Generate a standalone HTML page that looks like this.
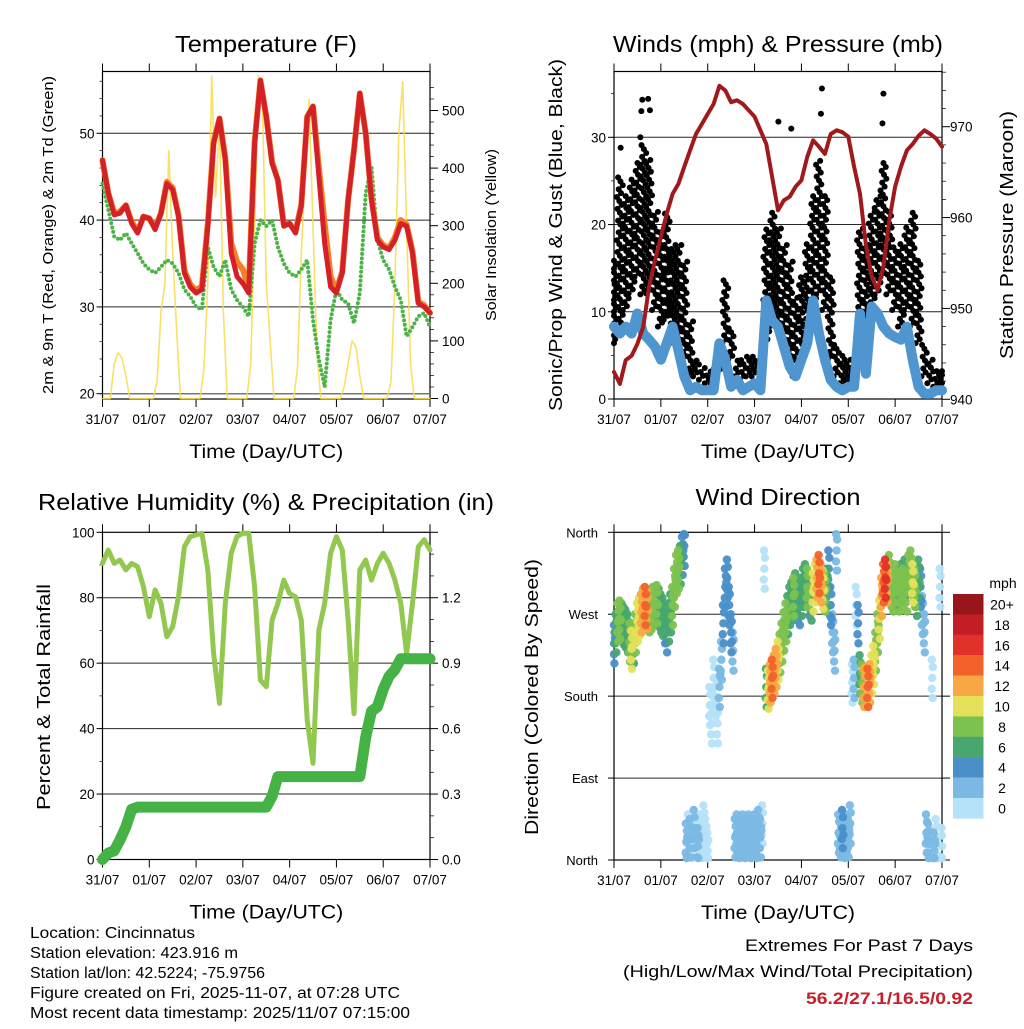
<!DOCTYPE html>
<html><head><meta charset="utf-8"><style>
html,body{margin:0;padding:0;background:#fff}
svg text{font-family:"Liberation Sans",sans-serif;fill:#000}
</style></head><body>
<svg id="fig" width="1024" height="1024" viewBox="0 0 1024 1024" xmlns="http://www.w3.org/2000/svg"></svg>
<script>
// ---------- DATA (3-hourly unless noted, hours 0..168) ----------
const dayLabels = ["31/07","01/07","02/07","03/07","04/07","05/07","06/07","07/07"];
const tRed = [46.9,43.1,40.6,40.8,41.7,39.6,38.5,40.4,40.2,38.9,40.8,44.2,43.5,40.4,33.9,32.3,31.6,32,39.3,48.8,51.7,46.9,36.2,33.5,32.7,31.6,48.8,56.1,51.9,46.5,44.6,39.3,39.6,38.5,41.6,51.9,53.1,45,37.3,32.3,31.6,33.9,42.3,48.1,54.6,50,42.3,37.7,36.9,36.6,37.7,39.6,39.3,36.2,30.4,30,29.3];
const tOrange = [46.9,43.1,40.8,41,41.7,39.8,38.7,40.4,40.2,39.1,40.8,44.4,43.7,40.6,34.2,32.6,31.9,32.4,39.6,49,51.7,47.2,37.4,35.2,34.3,32.2,49,56.1,51.9,46.7,44.6,39.5,39.6,38.7,41.8,51.9,53.1,46,39.5,33.5,31.9,34.1,42.3,48.1,54.6,50,42.5,38,37.1,36.8,38,40,39.5,36.4,30.6,30.2,29.3];
const tDew = [44.2,41.2,38.1,37.7,38.5,37.3,36.2,35,34.3,33.9,34.6,35.4,35,33.9,32,31.2,30,29.7,36.9,34.6,33.5,35.4,32,30.8,30,28.9,37.3,40,39.3,40,36.9,35,33.9,33.5,34.3,35.4,28.5,23.9,20.8,28.5,32,30.8,30.4,28.1,31.6,43.1,46.2,37.7,35.4,34.3,32.3,30.8,26.6,27.7,28.9,29.3,27.7];
// solar, 2-hourly
const solar = [0,0,0,60,80,70,40,0,0,0,0,0,0,0,30,150,200,430,250,120,0,0,0,0,0,0,50,200,560,350,480,150,0,0,0,0,0,0,60,300,560,520,200,100,0,0,0,0,0,0,50,250,400,520,300,80,0,0,0,0,0,0,20,60,100,90,40,0,0,0,0,0,0,0,30,200,460,550,300,60,0,0,0,0,0];
const pressure = [943,941.7,944.3,944.8,946.1,948,952.4,955.3,957.9,960.4,962.6,963.7,965.6,967.4,969.2,970.3,971.4,972.5,974.5,974,972.7,972.9,972.5,971.8,971.1,969.6,968.1,964.5,960.8,961.9,962.3,963.4,964.1,966.7,968.5,967.8,967,969.2,969.6,969.4,968.9,965.6,962.6,957,953.5,952,954.6,959.7,963.4,965.6,967.4,968.1,969,969.6,969.2,968.7,967.8];
const windMean = [8.3,7.5,8.3,7.5,9.8,7.5,6.8,6,4.5,6.4,8.3,5.6,2.6,1,1.4,1,1,1,6.4,4.5,1.4,2.2,1,1.4,1.8,1,11.3,9,8.3,6,3.7,2.6,4.5,6.4,11.3,7.5,4.5,2.2,1.4,1,1.4,1.4,9.8,2.9,10.6,9.8,8.3,7.5,7.1,6.8,8.3,4.5,1.4,0.6,0.6,1,1];
const gustLow = [6.4,8.3,10.2,12.1,14,12,12.1,10.2,8.3,9.1,6.4,6.4,4.5,2.6,2.6,2.2,1.8,1.8,3,6.4,4.5,2.6,2.2,2.6,2.6,1.4,6.4,8.3,8.3,6.4,4.5,2.6,4.5,8.3,10.2,12,10.2,4.5,2.6,1.8,1.8,1.4,8.3,6.4,10.2,12,14,12,10.2,8.3,10.2,8.3,6.4,2.6,1.8,1.4,1.4];
const gustHigh = [15.9,25.5,23.5,25.5,27.4,29.3,27.4,21.6,19.7,21.6,17.8,17.8,15.9,9,4.5,3.6,3.2,3.6,5,14,8.3,4.5,4.5,4.9,5.2,4.9,19.7,21.6,19.7,17.8,15.9,12,14,17.8,23.5,27.4,23.5,14,6.4,5.2,4.5,4.5,19.7,17.8,21.6,23.5,27.4,21.6,17.8,17.8,19.7,21.6,15.9,6.4,4.5,3.6,3.2];
const gustOutHour = [3.4,13.5,14,14.5,17.5,18.4,84.2,90.8,106,106.5,137.5,138];
const gustOutVal = [28.8,30,33,34.3,34.4,33.1,31.8,31,32.7,35.6,31.6,35];
const rh = [90.5,94.6,90.5,91.5,88.5,90.5,89.5,83.4,74.2,82.4,78.3,68.1,71.2,80.3,95.6,98.7,99.2,99.7,88.5,63,47.7,78.3,93.6,98.7,99.7,99.7,83.4,54.8,52.8,73.2,78.3,85.4,81.3,80.3,73.2,42.6,29.4,70.1,78.3,93.6,98.7,94.6,73.2,44.6,88.5,91.5,85.4,90.5,93.6,90.5,85.4,78.3,63,78.3,95.6,97.7,94.6];
const precip = [0,0.03,0.04,0.09,0.15,0.23,0.24,0.24,0.24,0.24,0.24,0.24,0.24,0.24,0.24,0.24,0.24,0.24,0.24,0.24,0.24,0.24,0.24,0.24,0.24,0.24,0.24,0.24,0.24,0.29,0.38,0.38,0.38,0.38,0.38,0.38,0.38,0.38,0.38,0.38,0.38,0.38,0.38,0.38,0.38,0.56,0.68,0.7,0.78,0.84,0.87,0.92,0.92,0.92,0.92,0.92,0.92];
// wind direction, hourly
const wdir = [238,250,262,265,262,258,255,250,240,232,238,250,262,268,272,278,280,276,272,275,280,280,282,278,272,268,260,250,262,272,280,300,315,320,325,335,345,20,30,25,20,35,25,15,30,20,40,25,10,170,150,200,180,150,190,220,260,300,310,280,250,230,25,30,20,25,30,15,25,30,20,25,30,20,35,25,40,320,190,188,195,200,205,212,220,228,240,252,262,270,280,285,290,295,285,280,290,300,305,300,290,285,295,305,310,315,305,298,295,300,320,280,250,230,340,30,25,35,20,30,25,40,195,200,280,260,205,195,190,192,190,195,205,215,230,250,265,290,305,310,305,315,300,295,305,300,295,305,300,310,295,315,320,305,300,290,310,300,270,250,30,20,15,200,10,25,5,300,15];
const wspd = [4,6,8,8,6,6,6,6,8,10,6,8,10,10,12,12,14,12,8,8,8,6,8,6,6,6,4,4,6,6,8,8,8,8,6,4,4,2,1,2,1,2,1,2,0,1,0,1,0,0,1,0,1,1,2,3,4,5,5,4,4,3,3,3,2,3,2,3,3,2,2,3,2,3,2,2,1,1,6,10,12,14,12,12,10,8,8,8,8,6,6,6,8,6,4,4,6,6,6,8,4,6,10,10,12,14,12,10,8,6,4,4,3,3,2,3,3,4,3,3,2,2,1,2,1,4,6,8,12,12,14,12,10,10,8,8,10,12,14,16,12,8,8,8,8,6,8,6,8,6,8,8,8,10,8,6,6,4,3,2,2,2,1,0,2,1,1,0,1];
const speedLabels = ["20+","18","16","14","12","10","8","6","4","2","0"];
const speedColors = ["#b5e2f8","#7bb9e4","#4a8fc8","#48a66f","#7cc24e","#e5e05a","#f7a845","#f2622a","#e03229","#c31d25","#98151b"];

// ---------- helpers ----------
const NS = "http://www.w3.org/2000/svg";
const svg = document.getElementById("fig");
function mk(tag, attrs, parent) {
  const e = document.createElementNS(NS, tag);
  for (const k in attrs) e.setAttribute(k, attrs[k]);
  (parent || svg).appendChild(e);
  return e;
}
function txt(s, x, y, size, anchor, parent, extra) {
  const t = mk("text", Object.assign({x:x, y:y, "font-size":size, "text-anchor":anchor||"middle"}, extra||{}), parent);
  t.textContent = s;
  return t;
}
function hx(p, h) { return p.x0 + h * (p.x1 - p.x0) / 168; }
function lin(v, v0, v1, y0, y1) { return y0 + (v - v0) * (y1 - y0) / (v1 - v0); }

function frame(p, name) {
  const g = mk("g", {});
  
  
  mk("rect", {x:p.x0, y:p.y0, width:p.x1-p.x0, height:p.y1-p.y0, fill:"none", stroke:"#000", "stroke-width":1.2}, g);
  for (let i = 0; i < 8; i++) {
    const x = p.x0 + i * (p.x1 - p.x0) / 7;
    mk("line", {x1:x, y1:p.y1, x2:x, y2:p.y1+8, stroke:"#000", "stroke-width":1}, g);
    mk("line", {x1:x, y1:p.y0, x2:x, y2:p.y0-8, stroke:"#000", "stroke-width":1}, g);
    const t = txt(dayLabels[i], x, p.y1 + 25, 13.5, "middle", g);
    
    
  }
  const xt = txt("Time (Day/UTC)", (p.x0+p.x1)/2, p.y1 + 59, 19.5, "middle", g, {textLength:154, lengthAdjust:"spacingAndGlyphs"});
  
  
  return g;
}
function grid(p, ys, g) {
  ys.forEach(y => mk("line", {x1:p.x0, y1:y, x2:p.x1, y2:y, stroke:"#000", "stroke-width":1, opacity:0.85}, g));
}
function polyline(pts, attrs, name) {
  const e = mk("polyline", Object.assign({points: pts.map(q => q[0].toFixed(1)+","+q[1].toFixed(1)).join(" "), fill:"none", "stroke-linejoin":"round", "stroke-linecap":"round"}, attrs));
  
  
  return e;
}

// ---------- PANEL 1: Temperature ----------
const P1 = {x0:102.5, x1:430, y0:71.5, y1:399};
const tY = v => lin(v, 20, 50, 393.7, 133.3);
const sY = v => lin(v, 0, 500, 398.5, 110.5);
let g1 = frame(P1, "temperature");
grid(P1, [tY(30), tY(40), tY(50)], g1);
mk("line", {x1:P1.x0, y1:tY(20), x2:P1.x1, y2:tY(20), stroke:"#777", "stroke-width":1.5}, g1);
[20,30,40,50].forEach(v => { mk("line",{x1:P1.x0-6,y1:tY(v),x2:P1.x0,y2:tY(v),stroke:"#000"},g1); txt(String(v), P1.x0-8, tY(v)+5, 13.5, "end", g1); });
for (let v = 20; v <= 57; v += 2) mk("line",{x1:P1.x0-3,y1:tY(v),x2:P1.x0,y2:tY(v),stroke:"#000","stroke-width":0.7},g1);
for (let v = 0; v <= 550; v += 20) mk("line",{x1:P1.x1,y1:sY(v),x2:P1.x1+(v%100===0?8:4),y2:sY(v),stroke:"#000","stroke-width":v%100===0?1:0.7},g1);
[0,100,200,300,400,500].forEach(v => txt(String(v), P1.x1+12, sY(v)+5, 13.5, "start", g1));
polyline(solar.map((v,i)=>[hx(P1,i*2), sY(v)]), {stroke:"#f7dc4a", "stroke-width":1.6, opacity:0.85}, "solar-insolation-line");
polyline(tDew.map((v,i)=>[hx(P1,i*3), tY(v)]), {stroke:"#4cb447", "stroke-width":4, "stroke-dasharray":"0 4.5"}, "dewpoint-2m-line");
polyline(tOrange.map((v,i)=>[hx(P1,i*3), tY(v)]), {stroke:"#f47f2a", "stroke-width":6}, "temp-9m-line");
polyline(tRed.map((v,i)=>[hx(P1,i*3), tY(v)]), {stroke:"#d42127", "stroke-width":5}, "temp-2m-line");
let tt = txt("Temperature (F)", 266, 52, 23, "middle", null, {textLength:182, lengthAdjust:"spacingAndGlyphs"});
 
let yl = txt("2m & 9m T (Red, Orange) & 2m Td (Green)", 0, 0, 14.5, "middle", null, {transform:"translate(53,235) rotate(-90)", textLength:318, lengthAdjust:"spacingAndGlyphs"});
 
let yr = txt("Solar Insolation (Yellow)", 0, 0, 14.5, "middle", null, {transform:"translate(496,235) rotate(-90)", textLength:172, lengthAdjust:"spacingAndGlyphs"});
 

// ---------- PANEL 2: Winds & Pressure ----------
const P2 = {x0:614, x1:942, y0:71.5, y1:399};
const wY = v => lin(v, 0, 30, 399, 137.3);
const pY = v => lin(v, 940, 970, 399.3, 126.7);
let g2 = frame(P2, "winds");
grid(P2, [wY(10), wY(20), wY(30)], g2);
[0,10,20,30].forEach(v => { mk("line",{x1:P2.x0-6,y1:wY(v),x2:P2.x0,y2:wY(v),stroke:"#000"},g2); txt(String(v), P2.x0-8, wY(v)+5, 13.5, "end", g2); });
for (let v = 0; v <= 37; v += 5) mk("line",{x1:P2.x0-3,y1:wY(v),x2:P2.x0,y2:wY(v),stroke:"#000","stroke-width":0.7},g2);
for (let v = 940; v <= 976; v += 2) mk("line",{x1:P2.x1,y1:pY(v),x2:P2.x1+(v%10===0?8:4),y2:pY(v),stroke:"#000","stroke-width":v%10===0?1:0.7},g2);
[940,950,960,970].forEach(v => txt(String(v), P2.x1+8, pY(v)+5, 13.5, "start", g2));
const gustG = mk("g", {});


gustLow.forEach((lo, i) => {
  const hi = gustHigh[i];
  let k = 0;
  for (let v = lo; v <= hi + 0.01; v += 0.45) {
    const off = ((k * 7) % 11 - 5) * 0.3;
    const c = mk("circle", {cx:hx(P2, Math.max(0, Math.min(168, i*3 + off))), cy:wY(v), r:3, fill:"#000"}, gustG);
    
    
    k++;
  }
});
gustOutHour.forEach((h, i) => {
  const c = mk("circle", {cx:hx(P2,h), cy:wY(gustOutVal[i]), r:3, fill:"#000"}, gustG);
  
  
});
polyline(windMean.map((v,i)=>[hx(P2,i*3), wY(v)]), {stroke:"#4f95cf", "stroke-width":10}, "mean-wind-line");
polyline(pressure.map((v,i)=>[hx(P2,i*3), pY(v)]), {stroke:"#a01a1d", "stroke-width":4}, "pressure-line");
let t2 = txt("Winds (mph) & Pressure (mb)", 778, 52, 23, "middle", null, {textLength:330, lengthAdjust:"spacingAndGlyphs"});
 
let y2l = txt("Sonic/Prop Wind & Gust (Blue, Black)", 0, 0, 18.5, "middle", null, {transform:"translate(562,235) rotate(-90)", textLength:352, lengthAdjust:"spacingAndGlyphs"});
 
let y2r = txt("Station Pressure (Maroon)", 0, 0, 18.5, "middle", null, {transform:"translate(1013,235) rotate(-90)", textLength:248, lengthAdjust:"spacingAndGlyphs"});
 

// ---------- PANEL 3: RH & Precip ----------
const P3 = {x0:102.5, x1:430, y0:532.3, y1:859.5};
const rY = v => lin(v, 0, 100, 859.5, 532.3);
const prY = v => rY(v / 1.5 * 100);
let g3 = frame(P3, "humidity");
grid(P3, [rY(20), rY(40), rY(60), rY(80)], g3);
[0,20,40,60,80,100].forEach(v => { mk("line",{x1:P3.x0-6,y1:rY(v),x2:P3.x0,y2:rY(v),stroke:"#000"},g3); txt(String(v), P3.x0-8, rY(v)+5, 13.5, "end", g3); });
for (let v = 0; v <= 100; v += 10) mk("line",{x1:P3.x0-3,y1:rY(v),x2:P3.x0,y2:rY(v),stroke:"#000","stroke-width":0.7},g3);
for (let v = 0; v <= 1.51; v += 0.1) { const maj = Math.abs(v*10 % 3) < 0.01 || Math.abs(v*10 % 3 - 3) < 0.01; mk("line",{x1:P3.x1,y1:prY(v),x2:P3.x1+(maj?8:4),y2:prY(v),stroke:"#000","stroke-width":maj?1:0.7},g3); }
["0.0","0.3","0.6","0.9","1.2"].forEach(s => txt(s, P3.x1+12, prY(parseFloat(s))+5, 13.5, "start", g3));
polyline(rh.map((v,i)=>[hx(P3,i*3), rY(v)]), {stroke:"#92c84f", "stroke-width":5}, "relative-humidity-line");
polyline(precip.map((v,i)=>[hx(P3,i*3), prY(v)]), {stroke:"#45b245", "stroke-width":11}, "precipitation-line");
let t3 = txt("Relative Humidity (%) & Precipitation (in)", 266, 510, 23, "middle", null, {textLength:456, lengthAdjust:"spacingAndGlyphs"});
 
let y3l = txt("Percent & Total Rainfall", 0, 0, 18.5, "middle", null, {transform:"translate(50,697) rotate(-90)", textLength:226, lengthAdjust:"spacingAndGlyphs"});
 

// ---------- PANEL 4: Wind Direction ----------
const P4 = {x0:614, x1:942, y0:532.3, y1:860};
const dY = v => lin(v, 0, 360, 860, 532.3);
let g4 = frame(P4, "wind-direction");
grid(P4, [dY(90), dY(180), dY(270)], g4);
[[0,"North"],[90,"East"],[180,"South"],[270,"West"],[360,"North"]].forEach(d => { mk("line",{x1:P4.x0-6,y1:dY(d[0]),x2:P4.x0,y2:dY(d[0]),stroke:"#000"},g4); txt(d[1], P4.x0-16, dY(d[0])+5, 13, "end", g4); });
[0,90,180,270,360].forEach(v => mk("line",{x1:P4.x1,y1:dY(v),x2:P4.x1+8,y2:dY(v),stroke:"#000"},g4));
const dirG = mk("g", {});


function spdColor(v) { return speedColors[Math.min(10, Math.floor(v / 2))]; }
const order = wdir.map((d,i)=>i).sort((a,b)=>wspd[a]-wspd[b]);
order.forEach(i => {
  const d = wdir[i], col = spdColor(wspd[i]);
  const spots = [[i, d], [i - 0.3, d - 12], [i + 0.3, d + 12], [i + 0.2, d - 22], [i - 0.2, d + 20]];
  if (i < wdir.length - 1 && Math.abs(wdir[i+1] - d) < 35) spots.push([i + 0.5, (d + wdir[i+1]) / 2]);
  spots.forEach(s => {
    const c = mk("circle", {cx:hx(P4, Math.max(0, Math.min(168, s[0]))), cy:dY(Math.max(2, Math.min(358, s[1]))), r:4.2, fill:col, opacity:0.95}, dirG);
    
    
  });
});
let t4 = txt("Wind Direction", 778, 505, 23, "middle", null, {textLength:165, lengthAdjust:"spacingAndGlyphs"});
 
let y4l = txt("Direction (Colored By Speed)", 0, 0, 18.5, "middle", null, {transform:"translate(538,697) rotate(-90)", textLength:276, lengthAdjust:"spacingAndGlyphs"});
 

// colorbar
const cb = mk("g", {});


txt("mph", 1003, 588, 14, "middle", cb);
speedLabels.forEach((s, j) => {
  const y = 594 + j * 20.4;
  const r = mk("rect", {x:953, y:y, width:30.5, height:20.6, fill:speedColors[10 - j]}, cb);
  
  
  txt(s, 1002, y + 15.5, 14, "middle", cb);
});

// ---------- footer text ----------
const info = ["Location: Cincinnatus","Station elevation: 423.916 m","Station lat/lon: 42.5224; -75.9756","Figure created on Fri, 2025-11-07, at 07:28 UTC","Most recent data timestamp: 2025/11/07 07:15:00"];
const infoW = [165,208,235,370,380];
const infoG = mk("g", {});


info.forEach((s, i) => txt(s, 30, 938 + i * 20, 15.5, "start", infoG, {textLength:infoW[i], lengthAdjust:"spacingAndGlyphs"}));
const ex = mk("g", {});


txt("Extremes For Past 7 Days", 973, 951, 16.5, "end", ex, {textLength:228, lengthAdjust:"spacingAndGlyphs"});
txt("(High/Low/Max Wind/Total Precipitation)", 973, 977, 16.5, "end", ex, {textLength:350, lengthAdjust:"spacingAndGlyphs"});
const red = txt("56.2/27.1/16.5/0.92", 973, 1004, 16.5, "end", ex, {textLength:167, lengthAdjust:"spacingAndGlyphs", "font-weight":"bold"});
red.setAttribute("style","fill:#c8202a");
</script>
</body></html>
